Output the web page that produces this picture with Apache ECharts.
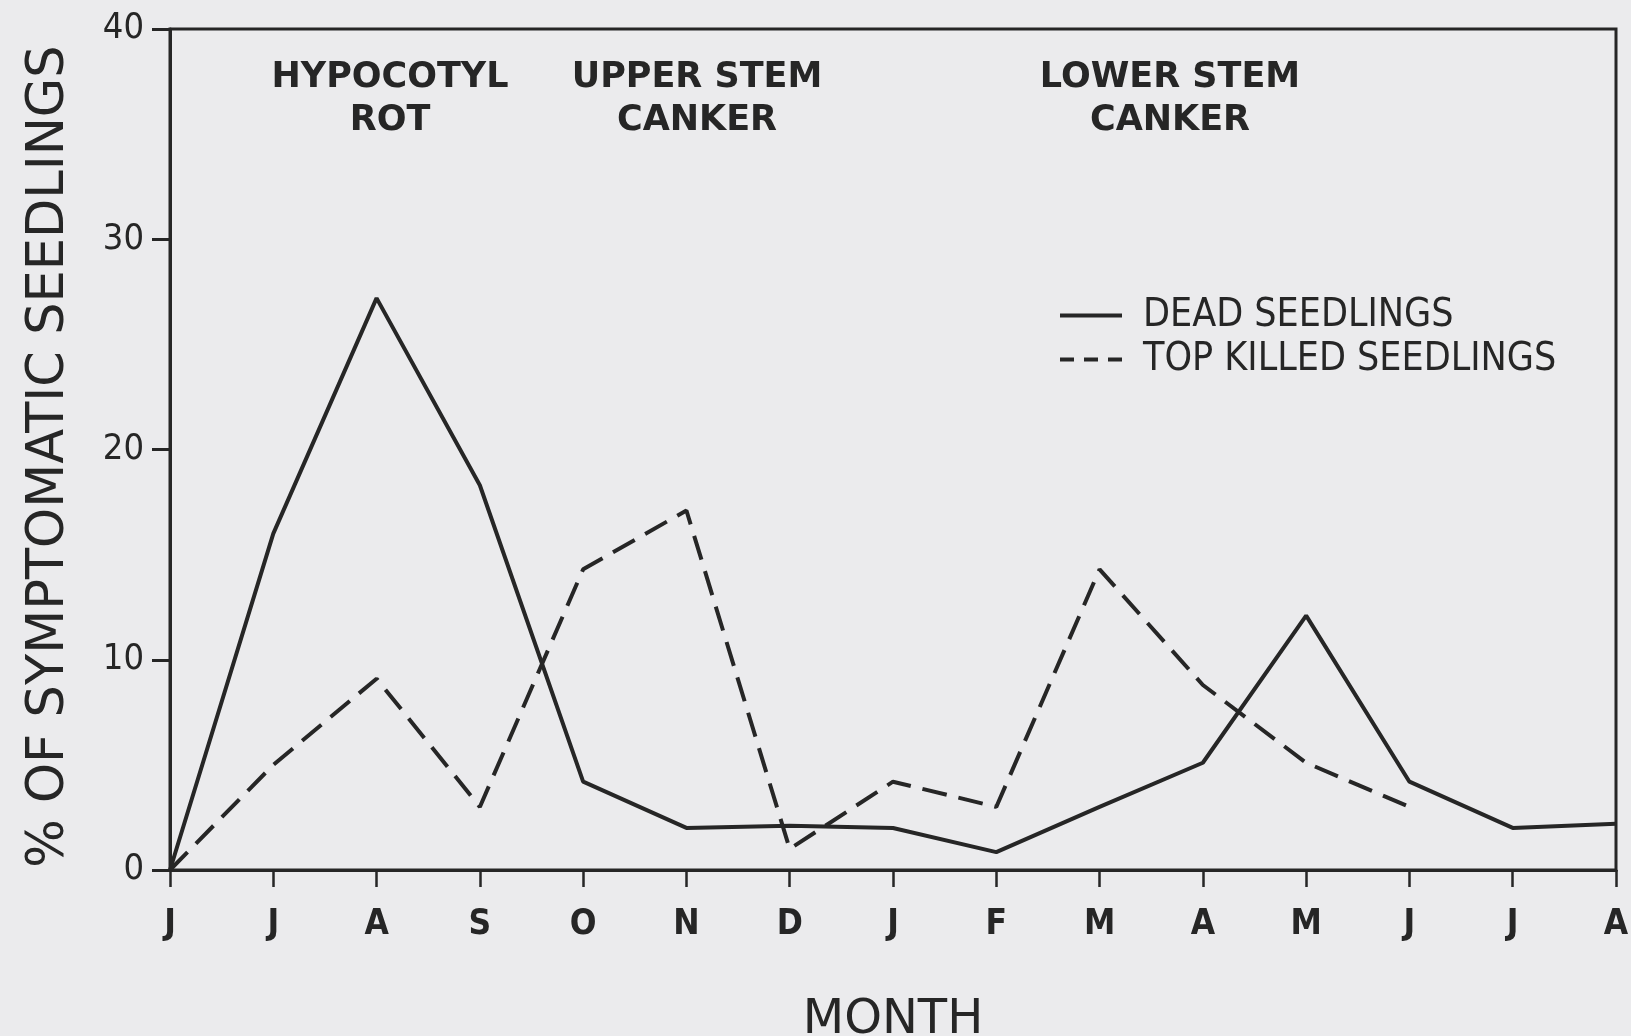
<!DOCTYPE html>
<html>
<head>
<meta charset="utf-8">
<style>
  html, body { margin: 0; padding: 0; background: #ebebed; }
  #chart { width: 1631px; height: 1036px; }
</style>
<script src="https://cdn.jsdelivr.net/npm/echarts@6/dist/echarts.min.js"></script>
</head>
<body>
<div id="chart"></div>
<script>
// Months from June through the following August
const months = ['J', 'J', 'A', 'S', 'O', 'N', 'D', 'J', 'F', 'M', 'A', 'M', 'J', 'J', 'A'];

// Percent of symptomatic seedlings per month
const deadSeedlings = [0, 16, 27.2, 18.3, 4.2, 2.0, 2.1, 2.0, 0.85, 3.0, 5.1, 12.1, 4.2, 2.0, 2.2];
const topKilledSeedlings = [0, 5.0, 9.1, 3.0, 14.3, 17.1, 1.0, 4.2, 3.0, 14.3, 8.8, 5.1, 3.0, null, null];

const yTicks = [0, 10, 20, 30, 40];

// Symptom phases written across the top of the plot
const phases = [
  ['HYPOCOTYL', 'ROT'],
  ['UPPER STEM', 'CANKER'],
  ['LOWER STEM', 'CANKER']
];

const INK = '#262626';
const COND = '"DejaVu Sans Condensed", "Liberation Sans Narrow", "DejaVu Sans", sans-serif';
const WIDE = '"DejaVu Sans", "Liberation Sans", sans-serif';

const chart = echarts.init(document.getElementById('chart'));

const phaseX = [390, 697, 1170];
const graphics = phases.map((lines, i) => ({
  type: 'text',
  x: phaseX[i],
  y: 56,
  style: {
    text: lines.join('\n'),
    fill: INK,
    font: 'bold 35px ' + WIDE,
    textAlign: 'center',
    lineHeight: 43
  }
}));

chart.setOption({
  backgroundColor: '#ebebed',
  animation: false,
  grid: {
    left: 170, right: 15, top: 29, bottom: 166,
    outerBoundsMode: 'none',
    containLabel: false,
    show: true, borderColor: INK, borderWidth: 3, backgroundColor: 'transparent'
  },
  legend: {
    left: 1053, top: 291,
    orient: 'vertical',
    itemWidth: 62, itemHeight: 14, itemGap: 5,
    itemStyle: { opacity: 0, borderWidth: 0 },
    lineStyle: { width: 4 },
    textStyle: { color: INK, fontSize: 39, fontFamily: COND, fontWeight: 500, padding: [0, 0, 0, 16] },
    data: [
      { name: 'DEAD SEEDLINGS' },
      { name: 'TOP KILLED SEEDLINGS', lineStyle: { type: [14, 10], width: 4 } }
    ]
  },
  xAxis: {
    type: 'category',
    data: months,
    boundaryGap: false,
    name: 'MONTH',
    nameLocation: 'middle',
    nameGap: 127,
    nameTextStyle: { color: INK, fontSize: 48, fontFamily: WIDE, fontWeight: 'normal' },
    axisLine: { lineStyle: { color: INK, width: 3 } },
    axisTick: { show: true, length: 17, lineStyle: { color: INK, width: 2.5 }, alignWithLabel: true },
    axisLabel: { color: INK, fontSize: 35, fontFamily: COND, fontWeight: 'bold', margin: 37, interval: 0 },
    splitLine: { show: false }
  },
  yAxis: {
    type: 'value',
    min: 0, max: 40, interval: 10,
    name: '% OF SYMPTOMATIC SEEDLINGS',
    nameLocation: 'middle',
    nameGap: 95,
    nameRotate: 90,
    nameTextStyle: { color: INK, fontSize: 51, fontFamily: WIDE, fontWeight: 'normal', padding: [0, 14, 0, 0] },
    axisLine: { show: true, lineStyle: { color: INK, width: 3 } },
    axisTick: { show: true, length: 18, lineStyle: { color: INK, width: 3 } },
    axisLabel: {
      color: INK, fontSize: 36, fontFamily: COND, margin: 26,
      formatter: v => (yTicks.includes(v) ? String(v) : '')
    },
    splitLine: { show: false }
  },
  series: [
    {
      name: 'DEAD SEEDLINGS',
      type: 'line',
      data: deadSeedlings,
      symbol: 'none',
      lineStyle: { color: INK, width: 4, type: 'solid' },
      itemStyle: { color: INK }
    },
    {
      name: 'TOP KILLED SEEDLINGS',
      type: 'line',
      data: topKilledSeedlings,
      symbol: 'none',
      connectNulls: false,
      lineStyle: { color: INK, width: 4, type: [25, 12] },
      itemStyle: { color: INK }
    }
  ],
  graphic: graphics
});
</script>
</body>
</html>
